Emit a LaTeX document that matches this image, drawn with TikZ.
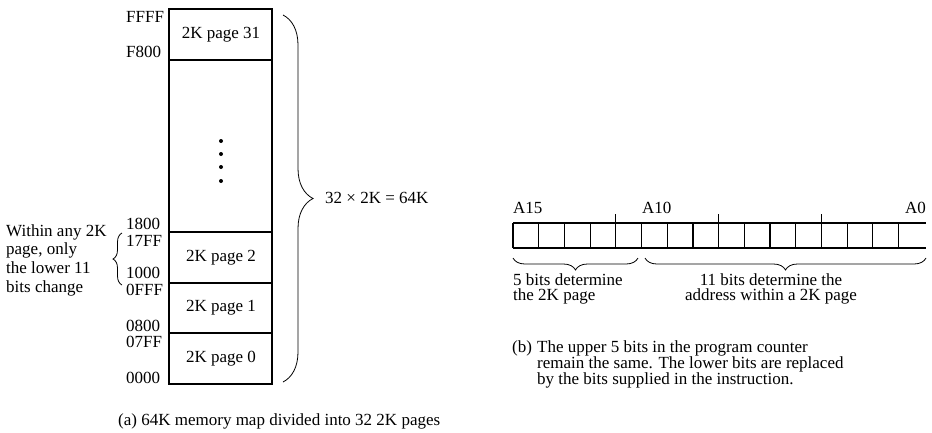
\documentclass[tikz,border=0pt]{standalone}
\usepackage{fontspec}
\setmainfont{Liberation Serif}
\usetikzlibrary{decorations.pathreplacing}
\begin{document}
\begin{tikzpicture}[x=1pt,y=-1pt,
  font=\fontsize{17}{18.7}\selectfont,
  mapline/.style={line width=1.3pt},
  regline/.style={line width=1.2pt},
  addr/.style={anchor=west, inner sep=0pt},
  lbl/.style={inner sep=0pt},
  brc/.style={decorate, decoration={brace, amplitude=#1}, line width=0.8pt}]
\useasboundingbox (0,0) rectangle (932,432);

% ---------- (a) memory map ----------
\draw[mapline] (169,9) rectangle (272,384);
\foreach \yy in {60,232,283,333} \draw[mapline] (169,\yy) -- (272,\yy);

\node[lbl] (p31) at (221,35)  {2K page 31};
\node[lbl] (p2)  at (221,258) {2K page 2};
\node[lbl] (p1)  at (221,308) {2K page 1};
\node[lbl] (p0)  at (221,359) {2K page 0};
\foreach \yy [count=\i] in {141,154,167,181}
  \fill (221,\yy) circle (2pt) coordinate (dot\i);

\node[addr] (aFFFF) at (126,17)  {FFFF};
\node[addr] (aF800) at (126,52)  {F800};
\node[addr] (a1800) at (126,224) {1800};
\node[addr] (a17FF) at (126,241) {17FF};
\node[addr] (a1000) at (126,273) {1000};
\node[addr] (a0FFF) at (126,290) {0FFF};
\node[addr] (a0800) at (126,326) {0800};
\node[addr] (a07FF) at (126,342) {07FF};
\node[addr] (a0000) at (126,378) {0000};

% small brace
\coordinate (sbB) at (122,285);
\coordinate (sbT) at (122,233);
\draw[brc=9pt] (sbB) -- (sbT);
\node[anchor=west, align=left, inner sep=0pt] (within) at (6,260)
  {Within any 2K\\page, only\\the lower 11\\bits change};

% big brace
\coordinate (bbT) at (283,15);
\coordinate (bbB) at (283,382);
\draw[brc=30pt] (bbT) -- (bbB);
\node[anchor=west, inner sep=0pt] (tot) at (325,198) {32 × 2K = 64K};

\node[anchor=west, inner sep=0pt] (capa) at (118,421)
  {(a) 64K memory map divided into 32 2K pages};

% ---------- (b) address register ----------
\node[addr] (A15) at (513,208) {A15};
\node[addr] (A10) at (642,208) {A10};
\node[anchor=east, inner sep=0pt] (A0) at (926,208) {A0};

\draw[regline] (513,223) -- (926,223);
\draw[regline] (513,248) -- (926,248);
\foreach \k in {0,...,15}
  \draw[regline] ({513+25.7*\k},223) -- ({513+25.7*\k},248);
\foreach \k in {4,8,12}
  \draw[regline] ({513+25.7*\k},214) -- ({513+25.7*\k},223);

\coordinate (b5R) at (638,258);
\coordinate (b5L) at (513,258);
\draw[brc=12pt] (b5R) -- (b5L);
\coordinate (b11R) at (926,258);
\coordinate (b11L) at (645,258);
\draw[brc=12pt] (b11R) -- (b11L);

\node[anchor=north west, align=left, inner sep=0pt,
      font=\fontsize{17}{15.5}\selectfont] (t5) at (513,273)
  {5 bits determine\\the 2K page};
\node[anchor=north, align=center, inner sep=0pt,
      font=\fontsize{17}{15.5}\selectfont] (t11) at (771,273)
  {11 bits determine the\\address within a 2K page};

\node[anchor=north west, inner sep=0pt] (capb) at (512,340) {(b)};
\node[anchor=north west, align=left, inner sep=0pt,
      font=\fontsize{17}{14.5}\selectfont] (capbt) at (537,340)
  {The upper 5 bits in the program counter\\remain the same. The lower bits are replaced\\by the bits supplied in the instruction.};
\end{tikzpicture}
\end{document}
